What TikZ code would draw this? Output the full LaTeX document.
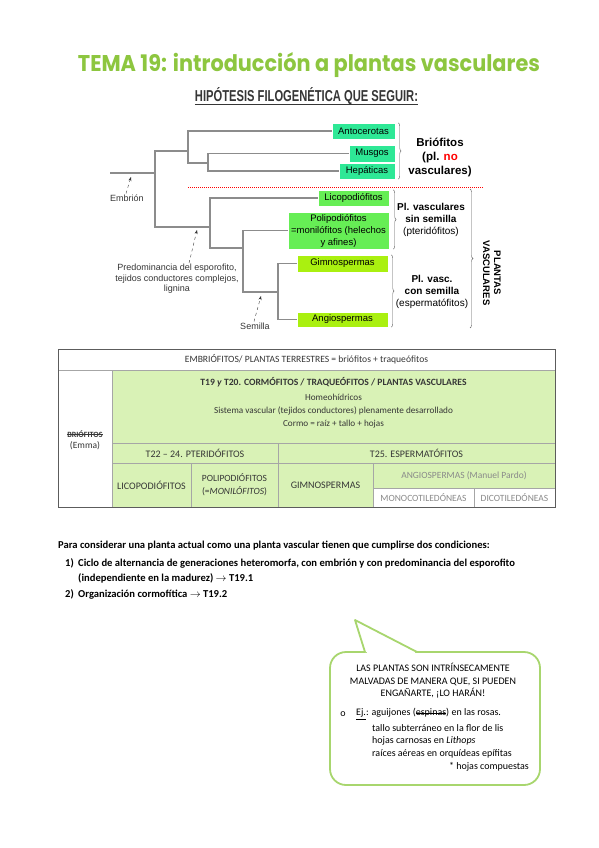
\documentclass[tikz,border=0pt]{standalone}
\usepackage{fontspec}
\setmainfont{Carlito}
\newfontfamily\treefont{Liberation Sans}
\newfontfamily\titlefont{Poppins}
\usepackage{graphicx}
\usepackage{tikz}
\usetikzlibrary{arrows.meta,positioning,calc,decorations.pathreplacing}
\newcommand{\strikeword}[1]{\setbox0\hbox{#1}\rlap{\copy0}\rule[0.28em]{\wd0}{0.5pt}}
\definecolor{titlegreen}{HTML}{8DC63F}
\definecolor{mintclade}{HTML}{2EE896}
\definecolor{fernclade}{HTML}{66EE55}
\definecolor{seedclade}{HTML}{AAF010}
\definecolor{cellgreen}{HTML}{D9F2B6}
\definecolor{bubblegreen}{HTML}{A8D66E}
\definecolor{treegray}{HTML}{8C8C8C}
\definecolor{gridgray}{HTML}{A6A6A6}
\definecolor{bk90}{HTML}{363636}
\definecolor{bk70}{HTML}{5C5C5C}
\definecolor{bk50}{HTML}{8A8A8A}
\tikzset{
  cladebox/.style={
    rectangle, fill=#1, draw=white, thin,
    inner sep=1pt, align=center,
    font=\treefont\fontsize{9.5}{12}\selectfont
  },
  cladebox/.default=mintclade,
  branch/.style={draw=treegray, line width=1.2pt},
  notearrow/.style={-{Stealth[length=4pt]}, dashed, thin, color=bk90},
  notetext/.style={font=\treefont\fontsize{9}{10.5}\selectfont, align=center, text=bk90, inner sep=1pt},
  groupbrace/.style={decorate, decoration={brace, amplitude=3pt}, thin, draw=bk70},
  grouplabel/.style={font=\treefont\fontsize{10}{12}\selectfont, align=center, inner sep=1pt},
  gridline/.style={draw=gridgray, line width=0.6pt},
  celltext/.style={font=\fontsize{10}{11}\selectfont, align=center, inner sep=1pt, text=bk90},
  listtext/.style={font=\bfseries\fontsize{10.6}{12}\selectfont, anchor=base west, inner sep=0pt, text=black},
  bubbletext/.style={font=\fontsize{10}{11}\selectfont, inner sep=0pt, text=black},
}

\begin{document}
\begin{tikzpicture}[x=1pt, y=-1pt]
  \useasboundingbox (0,0) rectangle (599,848);
  \fill[white] (0,0) rectangle (599,848);

  % title and subtitle
  \node[anchor=base, inner sep=0pt, text=titlegreen] (title) at (309,72)
    {\resizebox{462pt}{19pt}{\titlefont\bfseries TEMA 19: introducción a plantas vasculares}};
  \node[anchor=base, inner sep=0pt, text=bk90] (subtitle) at (306.5,101.5)
    {\resizebox{223pt}{14pt}{\treefont\bfseries HIPÓTESIS FILOGENÉTICA QUE SEGUIR:}};
  \draw[bk90, line width=0.9pt] ([yshift=-3pt]subtitle.base west) -- ([yshift=-3pt]subtitle.base east);

  % clades
  \node[cladebox=mintclade, minimum width=63, minimum height=16] (anto) at (363.5,131) {Antocerotas};
  \node[cladebox=mintclade, minimum width=46, minimum height=17] (musgos) at (372,153.5) {Musgos};
  \node[cladebox=mintclade, minimum width=56, minimum height=16] (hepat) at (367,171) {Hepáticas};
  \node[cladebox=fernclade, minimum width=71, minimum height=16] (lico) at (353.5,198) {Licopodiófitos};
  \node[cladebox=fernclade, minimum width=101, minimum height=37] (poli) at (338.5,230.5)
    {Polipodiófitos\\=monilófitos (helechos\\y afines)};
  \node[cladebox=seedclade, minimum width=91, minimum height=17] (gimno) at (342.5,263.5) {Gimnospermas};
  \node[cladebox=seedclade, minimum width=91, minimum height=15] (angio) at (342.5,319.5) {Angiospermas};

  % tree
  \coordinate (base) at (110,173);
  \coordinate (j0) at (155,173);
  \coordinate (ja) at (188,151);
  \coordinate (jb) at (208,163);
  \coordinate (jc) at (210,227);
  \coordinate (jd) at (243,248);
  \coordinate (je) at (278,292);
  \draw[branch] (base) -- (j0);
  \draw[branch] (ja) -| (j0) |- (jc);
  \draw[branch] (anto.west) -| (ja) |- (jb);
  \draw[branch] (musgos.west) -| (jb) |- (hepat.west);
  \draw[branch] (lico.west) -| (jc) |- (jd);
  \draw[branch] (poli.west) -| (jd) |- (je);
  \draw[branch] (gimno.west) -| (je) |- (angio.west);

  % notes on the branches
  \node[notetext] (embr) at (127,198) {Embrión};
  \coordinate (embtip) at (131,177);
  \draw[notearrow] ([xshift=-1pt]embr.north) -- (embtip);
  \node[notetext] (predom) at (177,279)
    {Predominancia del esporofito,\\tejidos conductores complejos,\\lignina};
  \coordinate (predtip) at (197,230);
  \draw[notearrow] ([xshift=12pt]predom.north) -- (predtip);
  \node[notetext] (semilla) at (255,326) {Semilla};
  \coordinate (semtip) at (261,296);
  \draw[notearrow] ([xshift=-1pt]semilla.north) -- (semtip);

  % groups
  \draw[red, densely dotted, line width=1pt] (188,187) -- (483,187);
  \draw[groupbrace] ([xshift=3pt]anto.north east) -- ([xshift=3pt]hepat.south east);
  \node[grouplabel, font=\treefont\bfseries\fontsize{11.5}{14}\selectfont] (brio) at (440,157)
    {Briófitos\\(pl. \textcolor{red}{no}\\vasculares)};
  \draw[groupbrace] ([xshift=4pt]lico.north east) -- ([xshift=4pt]poli.south east);
  \node[grouplabel] (pteri) at (431,220) {\textbf{Pl. vasculares}\\\textbf{sin semilla}\\(pteridófitos)};
  \draw[groupbrace] ([xshift=3pt]gimno.north east) -- ([xshift=3pt]angio.south east);
  \node[grouplabel] (esper) at (432,292) {\textbf{Pl. vasc.}\\\textbf{con semilla}\\(espermatófitos)};
  \draw[groupbrace] (470,189) -- (470,328);
  \node[grouplabel, rotate=-90, font=\treefont\bfseries\fontsize{9.5}{11}\selectfont] (vasc) at (492,273)
    {PLANTAS\\VASCULARES};

  % table
  \fill[cellgreen] (112,370) rectangle (555,507);
  \fill[white] (373,488) rectangle (555,507);
  \draw[gridline] (58,370) -- (555,370);
  \draw[gridline] (112,443) -- (555,443);
  \draw[gridline] (112,463) -- (555,463);
  \draw[gridline] (373,488) -- (555,488);
  \draw[gridline] (112,370) -- (112,507);
  \draw[gridline] (278,443) -- (278,507);
  \draw[gridline] (191,463) -- (191,507);
  \draw[gridline] (373,463) -- (373,507);
  \draw[gridline] (474,488) -- (474,507);
  \draw[bk70, line width=0.9pt] (58,349) rectangle (555,507);

  \node[celltext, font=\fontsize{9.6}{11}\selectfont] (embrio) at (306.5,359.5)
    {EMBRIÓFITOS/ PLANTAS TERRESTRES = briófitos + traqueófitos};
  \node[celltext, font=\bfseries\fontsize{9.6}{11}\selectfont] (cormo) at (333.5,382)
    {T19 \textit{y} T20. CORMÓFITOS / TRAQUEÓFITOS / PLANTAS VASCULARES};
  \node[celltext, font=\fontsize{9.2}{13}\selectfont] (rasgos) at (333.5,411)
    {Homeohídricos\\Sistema vascular (tejidos conductores) plenamente desarrollado\\Cormo = raíz + tallo + hojas};
  \node[celltext, font=\fontsize{8}{11}\selectfont] (briotab) at (85,440)
    {\textbf{\strikeword{BRIÓFITOS}}\\\fontsize{9.5}{11}\selectfont(Emma)};
  \node[celltext] (pteritab) at (195,453) {T22 -- 24. PTERIDÓFITOS};
  \node[celltext] (espertab) at (416.5,453) {T25. ESPERMATÓFITOS};
  \node[celltext] (licotab) at (151.5,485) {LICOPODIÓFITOS};
  \node[celltext, font=\fontsize{9.5}{13}\selectfont] (politab) at (234.5,485)
    {POLIPODIÓFITOS\\(=\textit{MONILÓFITOS})};
  \node[celltext] (gimnotab) at (325.5,485) {GIMNOSPERMAS};
  \node[celltext, text=bk50, font=\fontsize{9.5}{11}\selectfont] (angiotab) at (464,475.5) {ANGIOSPERMAS (Manuel Pardo)};
  \node[celltext, text=bk50, font=\fontsize{9.5}{11}\selectfont] (monotab) at (423.5,497.5) {MONOCOTILEDÓNEAS};
  \node[celltext, text=bk50, font=\fontsize{9.5}{11}\selectfont] (dicotab) at (514.5,497.5) {DICOTILEDÓNEAS};

  % conditions
  \node[listtext] (cond) at (58,548)
    {Para considerar una planta actual como una planta vascular tienen que cumplirse dos condiciones:};
  \node[listtext] (num1) at (65,566) {1)};
  \node[listtext] (cond1) at (78,566)
    {Ciclo de alternancia de generaciones heteromorfa, con embrión y con predominancia del esporofito};
  \node[listtext] (cond1b) at (78,581) {(independiente en la madurez) $\rightarrow$ T19.1};
  \node[listtext] (num2) at (65,597) {2)};
  \node[listtext] (cond2) at (78,597) {Organización cormofítica $\rightarrow$ T19.2};

  % speech bubble
  \draw[bubblegreen, line width=1.8pt, fill=white, rounded corners=16] (330,652) rectangle (540,785);
  \fill[white] (365,652) -- (355,620) -- (417,652) -- cycle;
  \draw[white, line width=2.8pt] (367,652) -- (415,652);
  \draw[bubblegreen, line width=1.8pt, line join=round] (365,652) -- (355,620) -- (417,652);

  \node[bubbletext, align=center, font=\fontsize{10}{12.5}\selectfont] (warn) at (433,681)
    {LAS PLANTAS SON INTRÍNSECAMENTE\\MALVADAS DE MANERA QUE, SI PUEDEN\\ENGAÑARTE, ¡LO HARÁN!};
  \node[bubbletext] (bullet) at (343,714) {o};
  \node[bubbletext, anchor=west] (ej1) at (356,714) {\underline{Ej.}: aguijones (\strikeword{espinas}) en las rosas.};
  \node[bubbletext, anchor=west] (ej2) at (372,728) {tallo subterráneo en la flor de lis};
  \node[bubbletext, anchor=west] (ej3) at (372,741) {hojas carnosas en \textit{Lithops}};
  \node[bubbletext, anchor=west] (ej4) at (372,754) {raíces aéreas en orquídeas epífitas};
  \node[bubbletext, anchor=east] (ej5) at (529,767) {* hojas compuestas};
\end{tikzpicture}
\end{document}
